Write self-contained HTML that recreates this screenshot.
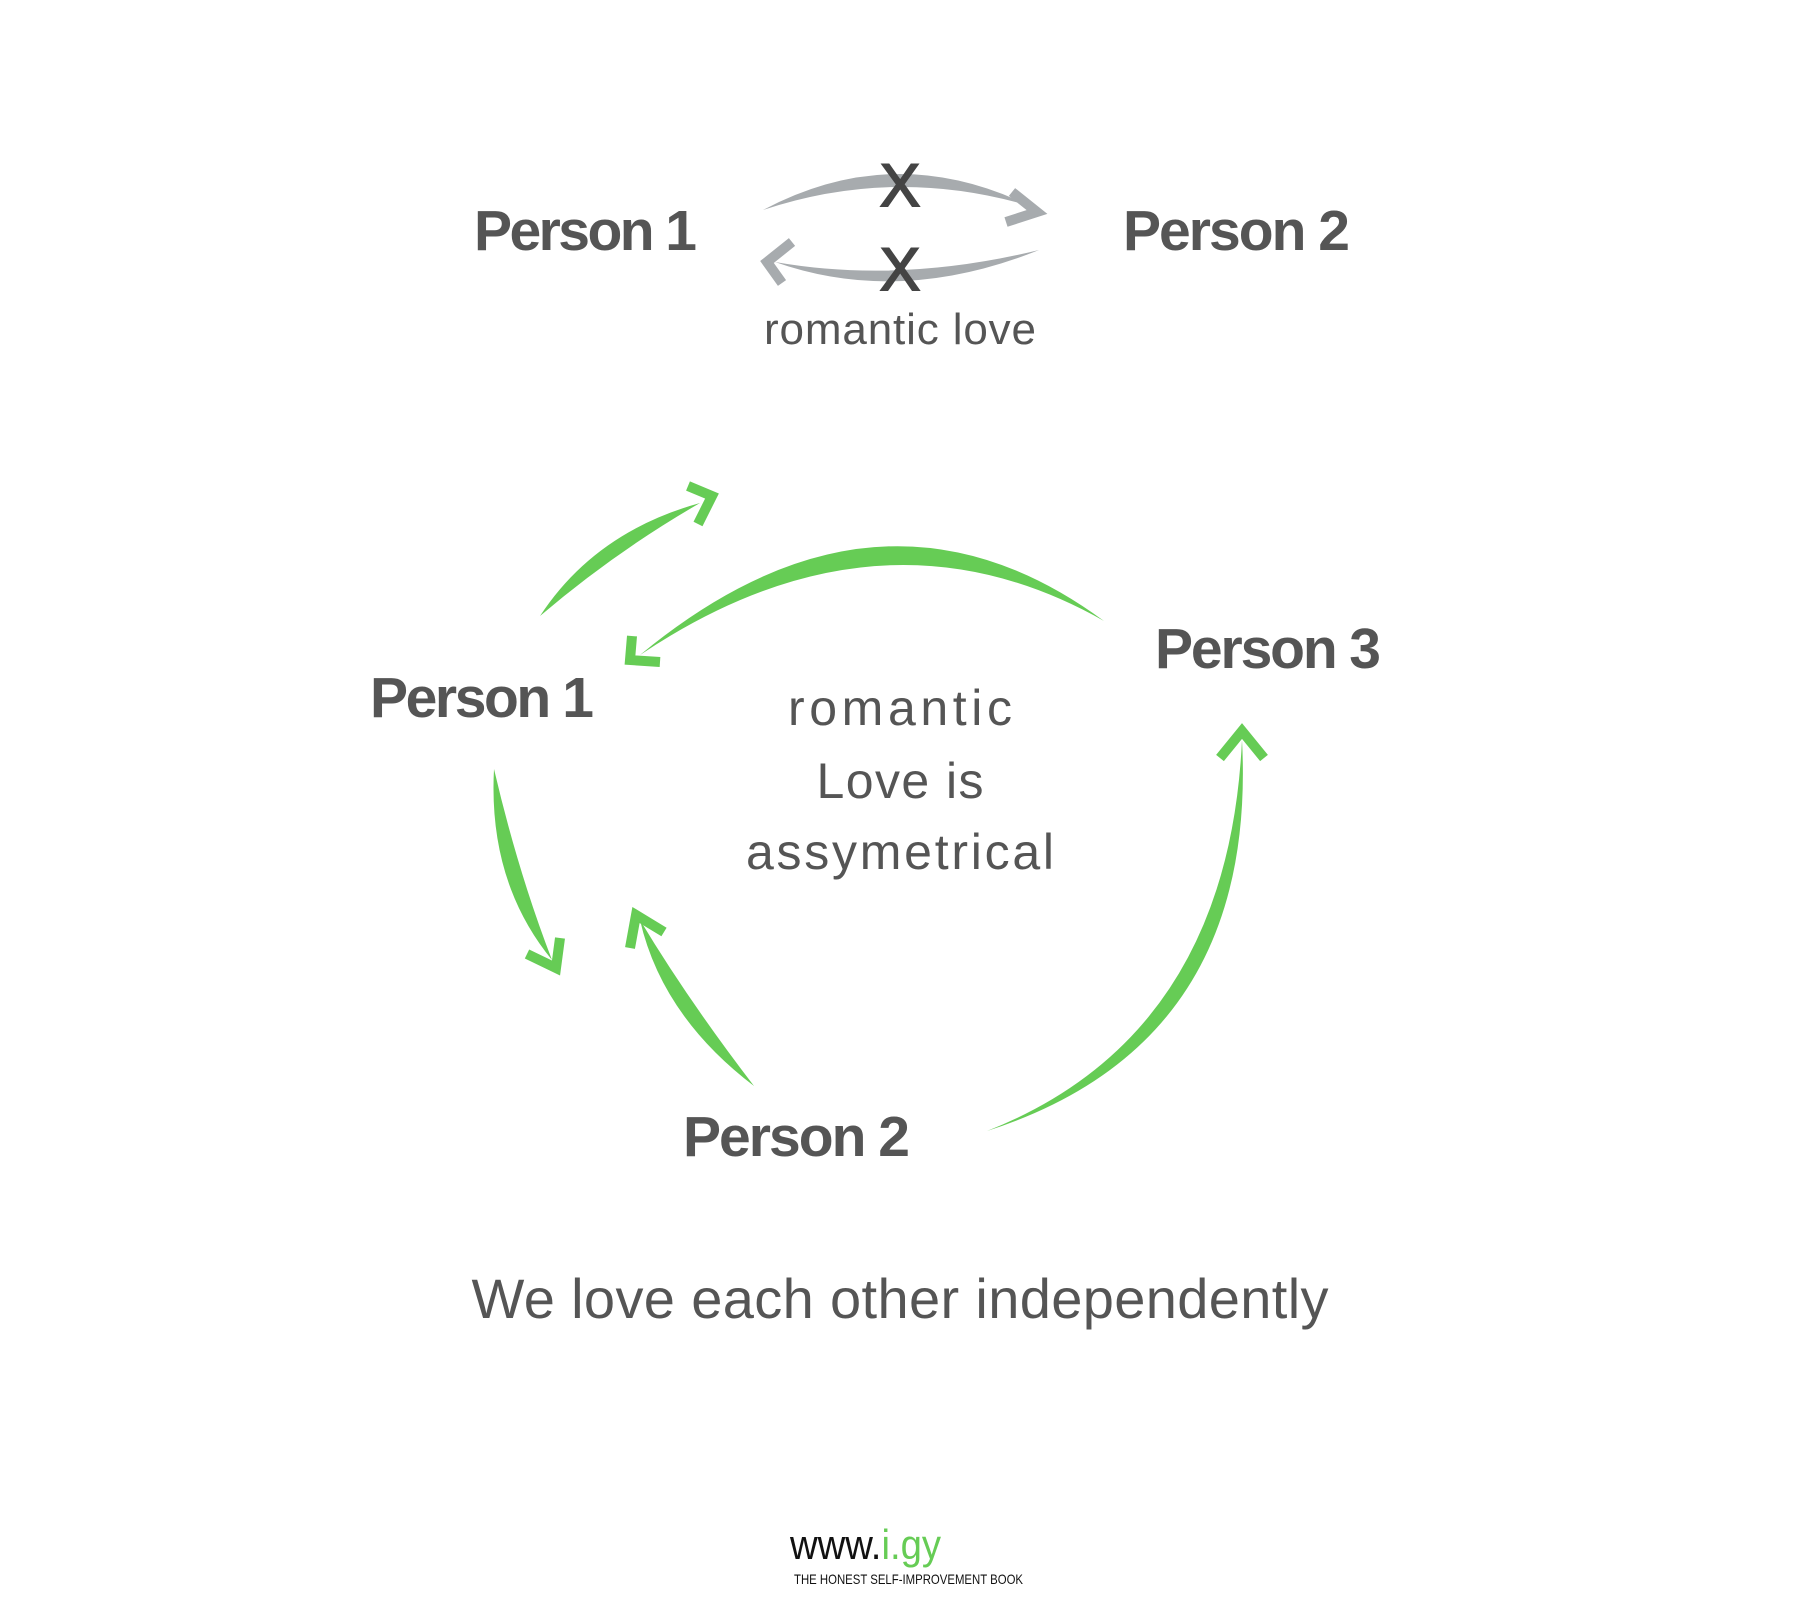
<!DOCTYPE html>
<html><head><meta charset="utf-8"><style>
html,body{margin:0;padding:0;background:#fff;}
svg{display:block;}
text{font-family:"Liberation Sans",sans-serif;fill:#555;}
.b{font-weight:bold;font-size:57px;}
</style></head><body>
<svg width="1800" height="1600" viewBox="0 0 1800 1600" xmlns="http://www.w3.org/2000/svg">
<!-- top -->
<text class="b" x="474" y="250" textLength="223">Person 1</text>
<text class="b" x="1123" y="250" textLength="227">Person 2</text>
<g fill="#a7abae" stroke="none">
<path d="M763 210 Q895 140 1030 206 Q895 166 763 210 Z"/>
<path d="M1039 250 Q900 306 775 262 Q900 284 1039 250 Z"/>
</g>
<g fill="none" stroke="#a7abae" stroke-width="10" stroke-linejoin="miter">
<polyline points="1012,192 1037,212 1006,222"/>
<polyline points="792,242 767,262 782,283"/>
</g>
<text x="900" y="206" text-anchor="middle" font-size="60" style="fill:#444;stroke:#444;stroke-width:2">X</text>
<text x="900" y="290" text-anchor="middle" font-size="60" style="fill:#444;stroke:#444;stroke-width:2">X</text>
<text x="900" y="344" text-anchor="middle" font-size="44" textLength="272">romantic love</text>
<!-- cycle -->
<text class="b" x="370" y="717" textLength="224">Person 1</text>
<text class="b" x="1155" y="668" textLength="226">Person 3</text>
<text class="b" x="683" y="1156" textLength="227">Person 2</text>
<g fill="#66cc55" stroke="none">
<path d="M540 616 Q595 532 700 503 Q615 552 540 616 Z"/>
<path d="M1104 621 Q880 456 640 655 Q880 494 1104 621 Z"/>
<path d="M494 769 Q488 882 552 960 Q518 872 494 769 Z"/>
<path d="M754 1086 Q662 1016 640 920 Q688 1000 754 1086 Z"/>
<path d="M987 1131 Q1228 1036 1242 740 Q1258 1044 987 1131 Z"/>
</g>
<g fill="none" stroke="#66cc55" stroke-width="10" stroke-linejoin="miter">
<polyline points="688,486 712,496 698,524"/>
<polyline points="632,636 630,660 660,662"/>
<polyline points="527,954 556,968 560,938"/>
<polyline points="630,948 636,915 664,932"/>
<polyline points="1220,758 1242,731 1264,758"/>
</g>
<g font-size="50" text-anchor="middle">
<text x="900" y="725" textLength="224">romantic</text>
<text x="900" y="798" textLength="167">Love is</text>
<text x="900" y="869" textLength="308">assymetrical</text>
</g>
<text x="900" y="1318" text-anchor="middle" font-size="56" textLength="857">We love each other independently</text>
<text x="790" y="1559" font-size="42" textLength="151" lengthAdjust="spacingAndGlyphs" style="fill:#111">www.<tspan style="fill:#66cc55">i.gy</tspan></text>
<text x="794" y="1584" font-size="14" textLength="229" lengthAdjust="spacingAndGlyphs" style="fill:#111">THE HONEST SELF-IMPROVEMENT BOOK</text>
</svg>
</body></html>
